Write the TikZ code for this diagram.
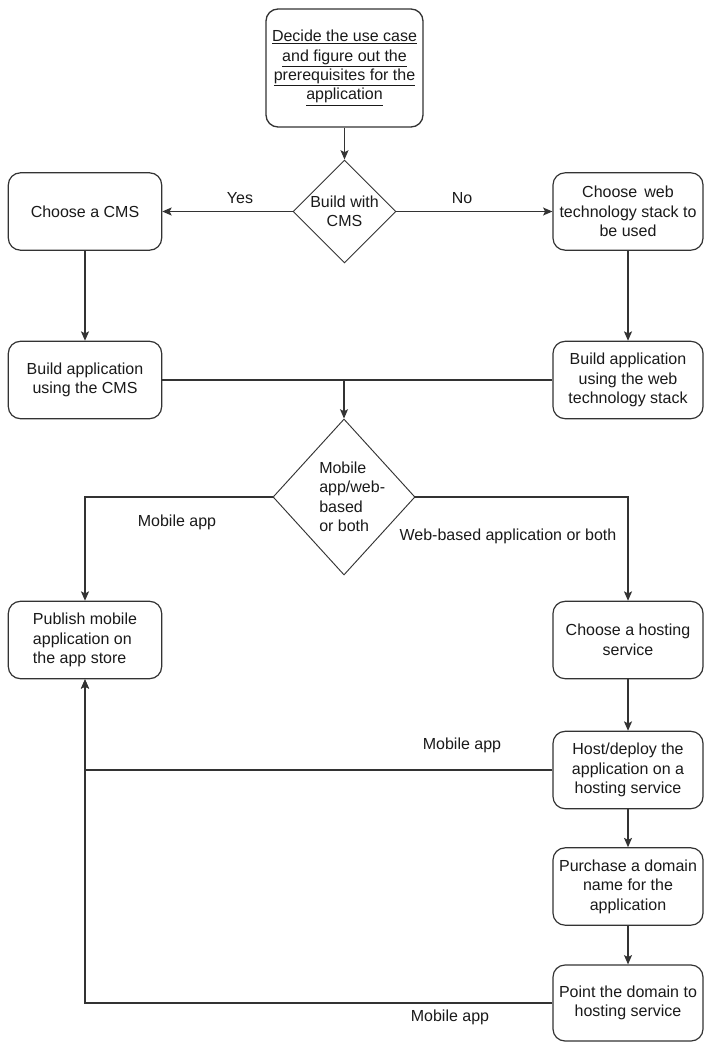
\documentclass[tikz,border=0pt]{standalone}
\usepackage{fontspec}
\setmainfont{Liberation Sans}
\usetikzlibrary{arrows.meta,shapes.geometric}
\definecolor{ln}{HTML}{333333}
\definecolor{tx}{HTML}{1A1A1A}
\tikzset{
  box/.style={draw=ln, line width=0.9pt, rounded corners=9pt, minimum width=115pt, minimum height=58pt, inner sep=2pt, align=center, text=tx, font=\fontsize{12}{14.6}\selectfont},
  dia/.style={draw=ln, line width=0.7pt, diamond, inner sep=0pt},
  lab/.style={text=tx, font=\fontsize{12}{14.6}\selectfont, inner sep=0pt},
  conn/.style={draw=ln, line width=0.9pt, -{Stealth[length=7pt,width=6pt,inset=1.5pt]}},
  plain/.style={draw=ln, line width=0.9pt}
}
\begin{document}
\begin{tikzpicture}[x=0.75pt,y=-0.75pt]
\useasboundingbox[fill=white] (0,0) rectangle (704,1044);

\node[box, minimum width=117.75pt, minimum height=88.5pt, line width=1pt] (top) at (344.5,68)
  {\underline{Decide the use case}\\\underline{and figure out the}\\\underline{prerequisites for the}\\\underline{application}};

\node[dia, minimum width=77.25pt, minimum height=77.25pt] (d1) at (344.5,211.5) {};
\node[lab, align=center] (d1t) at (344.5,211.5) {Build with\\CMS};

\node[box] (cms) at (85,211.5) {Choose a CMS};
\node[box, minimum width=112.5pt] (web) at (628,211.5) {Choose \,web\\technology stack to\\be used};

\node[box] (bcms) at (85,380) {Build application\\using the CMS};
\node[box, minimum width=112.5pt] (bweb) at (628,380) {Build application\\using the web\\technology stack};

\node[dia, minimum width=106.5pt, minimum height=117pt] (d2) at (344,497) {};
\node[lab, align=left, anchor=west] (d2t) at (319,497) {Mobile\\app/web-\\based\\or both};

\node[box, align=left] (pub) at (85,640) {Publish mobile\\application on\\the app store};
\node[box, minimum width=112.5pt] (host) at (628,640) {Choose a hosting\\service};
\node[box, minimum width=112.5pt] (dep) at (628,770) {Host/deploy the\\application on a\\hosting service};
\node[box, minimum width=112.5pt] (dom) at (628,886.5) {Purchase a domain\\name for the\\application};
\node[box, minimum width=112.5pt, minimum height=57pt] (pt) at (628,1003) {Point the domain to\\hosting service};

% connectors
\draw[conn] (top.south) -- (d1.north);
\draw[conn] (d1.west) -- (cms.east);
\draw[conn] (d1.east) -- (web.west);
\node[lab] (yes) at (240,198) {Yes};
\node[lab] (no) at (462,198) {No};

\draw[conn] (cms.south) -- (bcms.north);
\draw[conn] (web.south) -- (bweb.north);

\draw[plain] (bcms.east) -- (bweb.west);
\coordinate (j1) at (d2.north |- bcms.east);
\draw[conn] (j1) -- (d2.north);

\draw[conn] (d2.west) -| (pub.north);
\draw[conn] (d2.east) -| (host.north);
\node[lab] (lm1) at (177,522) {Mobile app};
\node[lab] (lw) at (508,536) {Web-based application or both};

\draw[conn] (host.south) -- (dep.north);
\draw[conn] (dep.south) -- (dom.north);
\draw[conn] (dom.south) -- (pt.north);

\draw[conn] (dep.west) -| (pub.south);
\draw[conn] (pt.west) -| (pub.south);
\node[lab] (lm2) at (462,745) {Mobile app};
\node[lab] (lm3) at (450,1017) {Mobile app};
\end{tikzpicture}
\end{document}
